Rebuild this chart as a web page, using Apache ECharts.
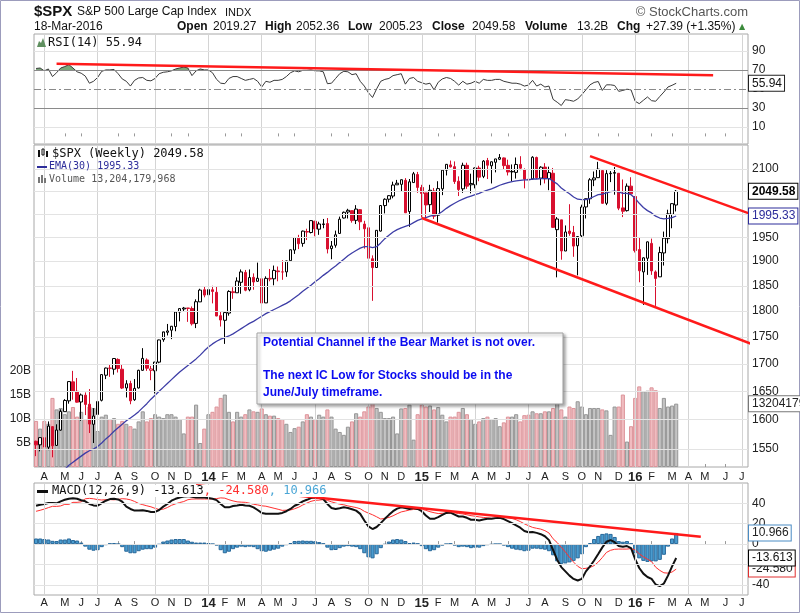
<!DOCTYPE html>
<html>
<head>
<meta charset="utf-8">
<script src="https://cdn.jsdelivr.net/npm/echarts@6/dist/echarts.min.js"></script>
<style>
  html, body { margin: 0; padding: 0; background: #fff; }
  #main { width: 800px; height: 614px; }
</style>
</head>
<body>
<div id="main"></div>
<script>
// weekly bars: week of Mon 2013-03-18 .. week of Mon 2016-03-14, the axis runs on to July 2016
const firstMonday = '2013-03-18';
const weekSlots = 174;
const prevClose = 1560.7;

const opens = [1563,1557,1569,1553,1588,1556,1582,1614,1633,1667,
  1650,1631,1643,1627,1592,1609,1634,1679,1692,1690,
  1708,1690,1656,1664,1635,1656,1688,1707,1688,1687,
  1703,1745,1759,1763,1770,1798,1804,1806,1805,1776,
  1818,1842,1832,1842,1837,1791,1782,1796,1838,1836,
  1857,1877,1842,1867,1859,1864,1816,1865,1864,1880,
  1878,1878,1901,1923,1948,1937,1962,1960,1984,1967,
  1977,1979,1926,1933,1958,1991,2004,2007,1986,2009,
  1978,1970,1905,1887,1963,2018,2032,2039,2064,2065,
  2074,2005,2069,2087,2058,2046,2020,2050,1997,2055,
  2097,2109,2105,2072,2055,2108,2064,2064,2102,2083,
  2119,2107,2115,2122,2125,2108,2093,2092,2110,2098,
  2075,2077,2126,2079,2104,2078,2090,1966,1987,1921,
  1963,1960,1932,1953,2015,2033,2075,2080,2096,2023,
  2089,2090,2090,2013,2007,2061,2038,1924,1878,1906,
  1937,1878,1868,1917,1947,1999,2019.27];
const highs = [1564,1570,1573,1597,1589,1592,1618,1636,1667,1687,
  1674,1646,1648,1654,1620,1632,1680,1693,1698,1710,
  1710,1698,1670,1669,1672,1689,1729,1710,1696,1703,
  1745,1759,1775,1771,1798,1804,1808,1806,1809,1823,
  1844,1849,1843,1850,1849,1798,1798,1841,1847,1867,
  1883,1882,1883,1875,1897,1872,1869,1884,1891,1889,
  1902,1901,1924,1950,1955,1964,1968,1986,1985,1983,
  1989,1991,1942,1964,1994,2005,2011,2007,2019,2010,
  1985,1977,1912,1965,2019,2034,2041,2071,2075,2076,
  2079,2077,2093,2093,2064,2046,2064,2057,2072,2097,
  2111,2119,2117,2083,2114,2114,2089,2103,2107,2120,
  2125,2117,2123,2134,2126,2121,2110,2126,2129,2101,
  2078,2129,2128,2106,2113,2105,2102,1993,1987,1975,
  2021,1974,1952,2020,2033,2079,2094,2116,2097,2097,
  2095,2104,2090,2076,2067,2081,2038,1950,1908,1941,
  1947,1881,1930,1962,2009,2023,2052.36];
const lows = [1538,1546,1539,1548,1536,1555,1581,1614,1628,1635,
  1630,1598,1608,1577,1560,1605,1632,1672,1676,1680,
  1684,1654,1639,1627,1633,1655,1687,1687,1670,1646,
  1701,1741,1753,1746,1761,1780,1799,1779,1772,1767,
  1818,1827,1823,1815,1790,1770,1737,1791,1824,1836,
  1834,1839,1839,1842,1858,1814,1816,1859,1851,1859,
  1862,1868,1901,1915,1925,1930,1944,1958,1952,1955,
  1969,1916,1904,1928,1958,1990,1990,1981,1978,1965,
  1926,1905,1820,1886,1962,2001,2025,2034,2064,2049,
  2002,1972,2069,2046,1992,1988,2004,1989,1981,2041,
  2085,2103,2066,2039,2046,2055,2045,2056,2072,2079,
  2077,2067,2092,2120,2099,2085,2072,2078,2097,2056,
  2044,2076,2077,2063,2067,2052,1970,1867,1903,1921,
  1953,1909,1871,1950,1990,2022,2061,2080,2022,2019,
  2070,2042,2008,1993,2005,2043,1918,1857,1812,1872,
  1872,1810,1868,1891,1937,1969,2005.23];
const closes = [1556.9,1569.2,1553.3,1588.9,1555.3,1582.2,1614.4,1633.7,1667.5,1649.6,
  1630.7,1643.4,1626.7,1592.4,1606.3,1631.9,1680.2,1692.1,1691.7,1709.7,
  1691.4,1655.8,1663.5,1633.0,1655.2,1688.0,1709.9,1691.8,1690.5,1703.2,
  1744.5,1759.8,1761.6,1770.6,1798.2,1804.8,1805.8,1805.1,1775.3,1818.3,
  1841.4,1831.4,1842.4,1838.7,1790.3,1782.6,1797.0,1838.6,1836.3,1859.5,
  1878.0,1841.1,1866.5,1857.6,1865.1,1815.7,1864.9,1863.4,1881.1,1878.5,
  1877.9,1900.5,1923.6,1949.4,1936.2,1962.9,1961.0,1985.4,1967.6,1978.2,
  1978.3,1925.2,1931.6,1955.1,1988.4,2003.4,2007.7,1985.5,2010.4,1982.9,
  1967.9,1906.1,1886.8,1964.6,2018.1,2031.9,2039.8,2063.5,2067.6,2075.4,
  2002.3,2070.7,2088.8,2058.2,2044.8,2019.4,2051.8,1995.0,2055.5,2097.0,
  2110.3,2104.5,2071.3,2053.4,2108.1,2061.0,2067.0,2102.1,2081.2,2117.7,
  2108.3,2116.1,2122.7,2126.1,2107.4,2092.8,2094.1,2110.0,2101.5,2076.8,
  2076.6,2126.6,2079.7,2103.8,2077.6,2091.5,1970.9,1988.9,1921.2,1961.1,
  1958.0,1931.3,1951.4,2014.9,2033.1,2075.2,2079.4,2099.2,2023.0,2089.2,
  2090.1,2091.7,2012.4,2005.6,2061.0,2043.9,1922.0,1880.3,1906.9,1940.2,
  1880.1,1864.8,1917.8,1948.1,2000.0,2022.2,2049.58];
// billions of shares
const volumes = [9.6,8.0,9.6,9.0,14.4,12.0,12.3,11.0,11.6,12.5,
  10.5,11.5,10.0,12.6,12.3,7.5,10.5,10.9,10.0,10.2,
  9.0,9.6,9.0,8.5,8.0,9.5,11.6,9.5,10.2,11.0,
  10.5,10.2,11.0,11.0,10.5,10.0,7.0,10.5,10.5,13.0,
  5.0,8.0,11.0,11.5,12.6,14.4,15.1,11.5,9.5,11.5,
  10.5,11.0,12.0,11.6,11.5,12.2,11.0,10.7,10.7,10.2,
  10.0,9.0,7.3,8.1,8.4,9.5,11.0,10.5,10.0,10.9,
  10.5,12.0,10.5,8.0,7.3,6.7,8.4,9.5,11.2,10.5,
  11.6,12.6,14.0,12.3,11.5,10.2,10.2,10.5,7.0,12.2,
  12.3,13.0,5.7,11.0,13.0,12.6,12.8,12.0,12.5,10.9,
  9.5,10.5,10.5,11.5,12.3,11.0,10.0,9.0,9.5,10.2,
  10.5,10.0,10.2,8.5,9.3,10.5,10.5,11.0,9.5,10.8,
  10.9,11.6,11.2,11.2,11.6,11.6,12.3,13.5,12.0,10.5,
  12.6,12.3,13.7,12.6,11.0,12.3,12.3,12.3,12.0,11.8,
  6.7,12.6,12.6,15.1,5.3,8.5,14.4,16.8,15.8,15.9,
  16.6,16.0,12.3,14.4,12.6,12.8,13.2];
const ema30 = [1478,1483,1488,1494,1499,1504,1510,1516,1523,1528,
  1533,1538,1543,1547,1550,1554,1560,1567,1573,1580,
  1586,1592,1598,1603,1608,1614,1621,1628,1636,1643,
  1650,1657,1664,1671,1678,1685,1691,1697,1703,1709,
  1716,1724,1731,1737,1742,1746,1749,1752,1756,1761,
  1766,1771,1776,1780,1785,1790,1795,1799,1803,1807,
  1811,1815,1820,1826,1832,1839,1845,1851,1858,1864,
  1871,1877,1884,1890,1897,1904,1911,1917,1922,1927,
  1930,1930,1928,1930,1938,1947,1954,1961,1966,1970,
  1973,1976,1981,1986,1989,1992,1995,1997,1999,2005,
  2012,2018,2023,2028,2032,2036,2039,2042,2045,2049,
  2052,2055,2059,2063,2066,2069,2071,2073,2074,2075,
  2075,2077,2077,2078,2078,2078,2072,2066,2057,2050,
  2044,2037,2032,2031,2031,2034,2038,2042,2043,2046,
  2049,2050,2048,2045,2045,2042,2034,2023,2014,2007,
  2002,1995,1991,1989,1990,1992,1995.33];
const rsi14 = [71.5,72,69,71,63,67,72,73.5,75.5,72,
  68,66.5,63.5,56,58,62,68.5,70,70,70.5,
  66,60.5,58,53,59,61.5,62,59,58.5,61,
  66,67.5,68,69,71,72,73,72,64,69,
  71,70,70,67,60,56,55.5,61,63,63,
  61,59,60,61,58,52,58,57,59,59,
  60,63,67,69,68,69.5,69.5,70,69,69,
  68,55.5,56,61,66,68.5,68,65,66,58,
  53,46,41,50,58,60,61,64,65,66,
  55,61,62,58,56.5,55,56,49,57,60.5,
  62,61,58,54,58,55,56,58,56,60,
  59,59,60,60,58,57,56,56,55,53,
  54,59,53,55,52,53,39,36,32.5,38.7,
  38,37,39.4,44,49,54.3,56.8,57.8,48.4,54.3,
  54.3,53.6,47.4,48.4,49.7,49,37,34.5,38,41.5,
  37.6,37,42,46.7,52,53.8,55.94];
const macdLine = [37.7,38.7,39.4,40.3,40.3,40,42,43.5,44.5,45,
  44.5,43,42,39.4,38,37.7,40.3,42.6,44.2,44.5,
  43.9,41.6,36.8,34.5,32.9,32.9,33.2,32.6,31.6,31.6,
  33.5,36.8,39.4,42.6,44.5,45.8,46.8,47.1,46.5,45.8,
  45.8,45.8,45.2,44.5,43.2,39.4,36.1,36.1,37.4,38,
  38.7,38,37.7,36.1,33.5,30.6,29.7,29.7,29.7,29.7,
  30.6,32.3,34.5,37.7,39.4,41.9,43.5,45.2,45.8,45.2,
  44.2,39.4,35.5,34.5,35.2,36.1,35.5,34.2,32.9,29.7,
  23.2,17.4,14.8,16.8,20.6,24.8,28.7,32.3,34.8,36.1,
  35.5,34.5,35.5,34.5,32.3,28.1,24.8,24.8,26.5,28.7,
  30.6,31,29,27.1,27.1,25.8,23.9,23.9,23.2,24.2,
  24.8,24.8,25.5,25.8,24.5,22.6,20.6,18.4,16.1,12.9,
  11.6,11.9,11,9.7,7.7,3.9,-5.8,-15.5,-22.6,-26.8,
  -31,-34.2,-35.8,-34.2,-26.8,-21.9,-16.1,-9.7,-3.2,2.3,
  3.9,1.9,-1.9,-2.6,-1.9,-3.9,-14.8,-23.5,-29,-32.3,
  -34.2,-39.7,-41.3,-38.7,-31,-21.9,-13.613];
const macdSignal = [32.2,33.2,34.4,35.8,37.1,37,37.5,39,39,41,
  41,41.5,44.5,44.9,44.5,43.7,43.3,43.6,43.7,43.5,
  43.9,44.6,44.3,43.5,41.9,39.9,38.7,37.6,36.6,35.1,
  34,34.3,35.9,38.1,39.5,40.8,41.8,43.6,44.2,44.3,
  44.3,44.3,44.2,44.5,44.7,45.4,45.1,43.6,42.4,41.5,
  41.2,41,40.2,39.1,38.5,37.6,37.2,36.2,35.2,34.2,
  33.1,33.3,33.5,34.7,36.2,38.4,40.3,42,43,43.2,
  43.7,42.9,41.5,40.3,39.2,38.6,37.5,36.7,35.9,34.7,
  32.2,30.4,28.8,26.8,24.6,25.3,26.2,27.8,29.8,31.6,
  32.5,33.5,34,34,34.3,33.1,31.8,30.8,30,30.2,
  30.6,30.5,30.5,30.1,29.6,28.8,27.9,27.4,26.7,26.2,
  25.8,25.3,25.5,25.8,26,25.6,25.1,23.9,22.1,19.9,
  18.1,16.4,15.5,14.7,13.2,10.9,5.2,1.5,-3.1,-7.8,
  -13,-17.7,-21.8,-24.2,-23.8,-22.9,-21.1,-17.7,-13.2,-8.2,
  -6.1,-5.1,-4.9,-4.9,-4.9,-4.4,-5.8,-9.5,-12.5,-14.8,
  -17.2,-22.7,-25.8,-28.2,-28.5,-27.4,-24.58];
const macdHist = [5.5,5.5,5,4.5,3.2,3,4.5,4.5,5.5,4,
  3.5,1.5,-2.5,-5.5,-6.5,-6,-3,-1,0.5,1,
  0,-3,-7.5,-9,-9,-7,-5.5,-5,-5,-3.5,
  -0.5,2.5,3.5,4.5,5,5,5,3.5,2.3,1.5,
  1.5,1.5,1,0,-1.5,-6,-9,-7.5,-5,-3.5,
  -2.5,-3,-2.5,-3,-5,-7,-7.5,-6.5,-5.5,-4.5,
  -2.5,-1,1,3,3.2,3.5,3.2,3.2,2.8,2,
  0.5,-3.5,-6,-5.8,-4,-2.5,-2,-2.5,-3,-5,
  -9,-13,-14,-10,-4,-0.5,2.5,4.5,5,4.5,
  3,1,1.5,0.5,-2,-5,-7,-6,-3.5,-1.5,
  0,0.5,-1.5,-3,-2.5,-3,-4,-3.5,-3.5,-2,
  -1,-0.5,0,0,-1.5,-3,-4.5,-5.5,-6,-7,
  -6.5,-4.5,-4.5,-5,-5.5,-7,-11,-17,-19.5,-19,
  -18,-16.5,-14,-10,-3,1,5,8,10,10.5,
  10,7,3,2.3,3,0.5,-9,-14,-16.5,-17.5,
  -17,-17,-15.5,-10.5,-2.5,5.5,10.966];

// tick labels
const priceTicks = [1550,1600,1650,1700,1750,1800,1850,1900,1950,2000,2050,2100];
const volTicks = [5,10,15,20];
const rsiTicks = [10,30,50,70,90];
const macdTicks = [-40,-20,0,20,40];
const monthLetters = ['J','F','M','A','M','J','J','A','S','O','N','D'];

// hand-drawn trend lines: [week index, value]
const rsiTrend = [[5,76.6],[165,64.4]];
const upperChannel = [[135,2129],[176,1993.8]];
const lowerChannel = [[94,1991],[177,1729]];
const macdTrend = [[39,57.9],[162,7.3]];

// categories
const weeks = [];
const t0 = Date.parse(firstMonday + 'T00:00:00Z');
for (let i = 0; i < weekSlots; i++) {
  weeks.push(new Date(t0 + i * 7 * 864e5).toISOString().slice(0, 10));
}
const monthOf = (s) => +s.slice(5, 7) - 1;
const monthStarts = new Set();
const quarterStarts = [];
weeks.forEach((w, i) => {
  if (i > 0 && monthOf(w) !== monthOf(weeks[i - 1])) {
    monthStarts.add(i);
    if (monthOf(w) % 3 === 0) quarterStarts.push(i);
  }
});

const RED = '#d8102f';
const FONT = 'Liberation Sans';
const MONO = 'DejaVu Sans Mono';
const last = closes.length - 1;

const candleData = closes.map((c, i) => {
  const pc = i ? closes[i - 1] : prevClose;
  const col = c < pc ? RED : '#000';
  const fill = c >= opens[i] ? '#fff' : col;
  return {
    value: [opens[i], c, lows[i], highs[i]],
    itemStyle: { color: fill, color0: fill, borderColor: col, borderColor0: col }
  };
});
const volData = volumes.map((v, i) => {
  const down = closes[i] < (i ? closes[i - 1] : prevClose);
  return {
    value: v,
    itemStyle: down
      ? { color: '#f0bcc0', borderColor: '#dc949a', borderWidth: 1 }
      : { color: '#c4c4c4', borderColor: '#969696', borderWidth: 1 }
  };
});
const empty = weeks.map(() => null);

function monthLabel(value) {
  const m = monthOf(value);
  if (m === 0) return '{yr|' + value.slice(2, 4) + '}';
  return monthLetters[m];
}

function xAxisFor(gi, showLabels, margin) {
  return {
    type: 'category', gridIndex: gi, data: weeks, boundaryGap: true,
    axisLine: { show: false },
    axisTick: { show: true, inside: true, length: 3, alignWithLabel: true,
      interval: (i) => monthStarts.has(i), lineStyle: { color: '#999' } },
    axisLabel: { show: showLabels, interval: (i) => monthStarts.has(i), margin: margin,
      formatter: monthLabel, color: '#222', fontSize: 11, fontFamily: FONT,
      rich: { yr: { fontWeight: 'bold', fontSize: 13, fontFamily: FONT, color: '#222' } } },
    splitLine: { show: false }
  };
}

function quarterLines() {
  return quarterStarts.map((i) => ({
    xAxis: i, label: { show: false },
    lineStyle: { color: '#d4d4d4', width: 1, type: 'solid' }
  }));
}

function tickLines(values, styleFor) {
  return values.map((v) => ({
    yAxis: v,
    lineStyle: styleFor(v),
    label: { show: true, position: 'end', distance: 4, formatter: String(v),
      color: '#222', fontSize: 12, fontFamily: FONT }
  }));
}

// last-value box on the right axis
function tag(value, text, border, color, bold) {
  return {
    silent: true, symbol: ['none', 'none'], animation: false, z: 8,
    lineStyle: { color: 'rgba(0,0,0,0)', width: 1, opacity: 1 },
    data: [{ yAxis: value }],
    label: { show: true, position: 'end', distance: 1, formatter: text, opacity: 1,
      backgroundColor: '#fff', borderColor: border, borderWidth: 1,
      padding: [2, 2, 1, 3], color: color, fontSize: 12, fontFamily: FONT,
      fontWeight: bold ? 'bold' : 'normal' }
  };
}

const lightGrid = { color: '#e3e3e3', width: 1, type: 'solid' };

// green shading only above the 70 line of the RSI panel (34..144 px)
const overbought = {
  type: 'linear', x: 0, y: 34, x2: 0, y2: 144, global: true,
  colorStops: [
    { offset: 0, color: '#7aa87a' }, { offset: 0.3265, color: '#7aa87a' },
    { offset: 0.3265, color: 'rgba(255,255,255,0)' }, { offset: 1, color: 'rgba(255,255,255,0)' }
  ]
};

const option = {
  animation: false,
  backgroundColor: '#fff',
  textStyle: { fontFamily: FONT },
  grid: [
    { left: 34, right: 52, top: 34, height: 110, show: true, borderColor: '#a8a8a8', borderWidth: 1 },
    { left: 34, right: 52, top: 145, height: 322, show: true, borderColor: '#a8a8a8', borderWidth: 1 },
    { left: 34, right: 52, top: 483, height: 112, show: true, borderColor: '#a8a8a8', borderWidth: 1 }
  ],
  xAxis: [xAxisFor(0, false, 2), xAxisFor(1, true, 4), xAxisFor(2, true, 2)],
  yAxis: [
    { type: 'value', gridIndex: 0, position: 'right', min: -8, max: 107.8,
      axisLabel: { show: false }, axisTick: { show: false }, axisLine: { show: false }, splitLine: { show: false } },
    { type: 'log', logBase: 10, gridIndex: 1, position: 'right', min: 1520, max: 2155,
      axisLabel: { show: false }, axisTick: { show: false }, axisLine: { show: false }, splitLine: { show: false }, minorSplitLine: { show: false } },
    { type: 'value', gridIndex: 1, position: 'left', min: 0, max: 67.1, interval: 5,
      axisLabel: { margin: 3, color: '#222', fontSize: 12, fontFamily: FONT,
        formatter: (v) => (volTicks.indexOf(v) >= 0 ? v + 'B' : '') },
      axisTick: { show: false }, axisLine: { show: false }, splitLine: { show: false } },
    { type: 'value', gridIndex: 2, position: 'right', min: -50, max: 60,
      axisLabel: { show: false }, axisTick: { show: false }, axisLine: { show: false }, splitLine: { show: false } }
  ],
  series: [
    // RSI panel
    { type: 'line', xAxisIndex: 0, yAxisIndex: 0, data: empty, z: 1, silent: true, symbol: 'none',
      markLine: { silent: true, symbol: ['none', 'none'], animation: false,
        data: quarterLines().concat(tickLines(rsiTicks, (v) => {
          if (v === 70 || v === 30) return { color: '#8a8a8a', width: 1, type: 'solid' };
          if (v === 50) return { color: '#8a8a8a', width: 1, type: [7, 3, 2, 3] };
          return lightGrid;
        })) } },
    { type: 'line', xAxisIndex: 0, yAxisIndex: 0, data: rsi14, z: 2, silent: true, symbol: 'none',
      lineStyle: { width: 0, color: 'rgba(0,0,0,0)' }, areaStyle: { origin: 70, color: overbought, opacity: 1 } },
    { type: 'line', xAxisIndex: 0, yAxisIndex: 0, data: rsi14, z: 3, symbol: 'none',
      lineStyle: { color: '#3a3a3a', width: 1 },
      markLine: tag(rsi14[last], '55.94', '#222', '#111', false) },
    { type: 'line', xAxisIndex: 0, yAxisIndex: 0, data: rsiTrend, z: 6, symbol: 'none',
      lineStyle: { color: '#ff1a1a', width: 2.5 } },

    // price panel
    { type: 'line', xAxisIndex: 1, yAxisIndex: 1, data: empty, z: 1, silent: true, symbol: 'none',
      markLine: { silent: true, symbol: ['none', 'none'], animation: false,
        data: quarterLines().concat(tickLines(priceTicks, () => lightGrid)) } },
    { type: 'bar', xAxisIndex: 1, yAxisIndex: 2, data: volData, z: 2, barCategoryGap: '0%',
      markLine: tag(13.204179968, '13204179968', '#777', '#222', false) },
    { type: 'candlestick', xAxisIndex: 1, yAxisIndex: 1, data: candleData, z: 3, barWidth: 3,
      itemStyle: { borderWidth: 1 },
      markLine: tag(2049.58, '2049.58', '#000', '#000', true) },
    { type: 'line', xAxisIndex: 1, yAxisIndex: 1, data: ema30, z: 4, symbol: 'none',
      lineStyle: { color: '#3d3da6', width: 1.3 },
      markLine: tag(1995.33, '1995.33', '#2d2d9a', '#2d2d9a', false) },
    { type: 'line', xAxisIndex: 1, yAxisIndex: 1, data: upperChannel, z: 6, symbol: 'none', clip: false,
      lineStyle: { color: '#ff1a1a', width: 2.5 } },
    { type: 'line', xAxisIndex: 1, yAxisIndex: 1, data: lowerChannel, z: 6, symbol: 'none', clip: false,
      lineStyle: { color: '#ff1a1a', width: 2.5 } },

    // MACD panel
    { type: 'line', xAxisIndex: 2, yAxisIndex: 3, data: empty, z: 1, silent: true, symbol: 'none',
      markLine: { silent: true, symbol: ['none', 'none'], animation: false,
        data: quarterLines().concat(tickLines(macdTicks, () => lightGrid)) } },
    { type: 'bar', xAxisIndex: 2, yAxisIndex: 3, data: macdHist, z: 2, barCategoryGap: '0%',
      itemStyle: { color: '#4a9ccf', borderColor: '#28689a', borderWidth: 1 },
      markLine: tag(10.966, '10.966', '#4a8cc4', '#222', false) },
    { type: 'line', xAxisIndex: 2, yAxisIndex: 3, data: macdSignal, z: 3, symbol: 'none',
      lineStyle: { color: '#ff3030', width: 1 },
      markLine: tag(-24.58, '-24.580', '#e03030', '#222', false) },
    { type: 'line', xAxisIndex: 2, yAxisIndex: 3, data: macdLine, z: 4, symbol: 'none',
      lineStyle: { color: '#111', width: 2 },
      markLine: tag(-13.613, '-13.613', '#000', '#111', false) },
    { type: 'line', xAxisIndex: 2, yAxisIndex: 3, data: macdTrend, z: 6, symbol: 'none',
      lineStyle: { color: '#ff1a1a', width: 2.5 } }
  ],
  graphic: [
    { type: 'rect', z: 0, silent: true, shape: { x: 0.5, y: 0.5, width: 799, height: 612 },
      style: { fill: 'none', stroke: '#9c9cbc', lineWidth: 1 } },
    { type: 'text', x: 34, y: 4, style: { text: '$SPX', font: 'bold 15px "Liberation Sans"', fill: '#111', verticalAlign: 'top' } },
    { type: 'text', x: 77, y: 6, style: { text: 'S&P 500 Large Cap Index', font: '12px "Liberation Sans"', fill: '#111', verticalAlign: 'top' } },
    { type: 'text', x: 225, y: 7, style: { text: 'INDX', font: '11px "Liberation Sans"', fill: '#111', verticalAlign: 'top' } },
    { type: 'text', x: 34, y: 21, style: { text: '18-Mar-2016', font: '12px "Liberation Sans"', fill: '#111', verticalAlign: 'top' } },
    { type: 'text', x: 748, y: 6, style: { text: '© StockCharts.com', font: '13px "Liberation Sans"', fill: '#555', align: 'right', verticalAlign: 'top' } },
    { type: 'text', x: 177, y: 21, style: { text: 'Open', font: 'bold 12px "Liberation Sans"', fill: '#111', verticalAlign: 'top' } },
    { type: 'text', x: 213, y: 21, style: { text: '2019.27', font: '12px "Liberation Sans"', fill: '#111', verticalAlign: 'top' } },
    { type: 'text', x: 265, y: 21, style: { text: 'High', font: 'bold 12px "Liberation Sans"', fill: '#111', verticalAlign: 'top' } },
    { type: 'text', x: 296, y: 21, style: { text: '2052.36', font: '12px "Liberation Sans"', fill: '#111', verticalAlign: 'top' } },
    { type: 'text', x: 348, y: 21, style: { text: 'Low', font: 'bold 12px "Liberation Sans"', fill: '#111', verticalAlign: 'top' } },
    { type: 'text', x: 379, y: 21, style: { text: '2005.23', font: '12px "Liberation Sans"', fill: '#111', verticalAlign: 'top' } },
    { type: 'text', x: 432, y: 21, style: { text: 'Close', font: 'bold 12px "Liberation Sans"', fill: '#111', verticalAlign: 'top' } },
    { type: 'text', x: 472, y: 21, style: { text: '2049.58', font: '12px "Liberation Sans"', fill: '#111', verticalAlign: 'top' } },
    { type: 'text', x: 525, y: 21, style: { text: 'Volume', font: 'bold 12px "Liberation Sans"', fill: '#111', verticalAlign: 'top' } },
    { type: 'text', x: 577, y: 21, style: { text: '13.2B', font: '12px "Liberation Sans"', fill: '#111', verticalAlign: 'top' } },
    { type: 'text', x: 617, y: 21, style: { text: 'Chg', font: 'bold 12px "Liberation Sans"', fill: '#111', verticalAlign: 'top' } },
    { type: 'text', x: 646, y: 21, style: { text: '+27.39 (+1.35%)', font: '12px "Liberation Sans"', fill: '#111', verticalAlign: 'top' } },
    { type: 'text', x: 739, y: 23, style: { text: '▲', font: '8px "DejaVu Sans"', fill: '#3b8a3b', verticalAlign: 'top' } },

    // panel legends
    { type: 'polygon', z: 10, shape: { points: [[37, 47], [39, 41], [41, 43], [43, 38], [46, 47]] }, style: { fill: '#5f8f5f' } },
    { type: 'text', z: 10, x: 48, y: 37, style: { text: 'RSI(14) 55.94', font: '12px "DejaVu Sans Mono"', fill: '#111', verticalAlign: 'top' } },

    { type: 'rect', z: 10, shape: { x: 38, y: 150, width: 2, height: 7 }, style: { fill: '#111' } },
    { type: 'rect', z: 10, shape: { x: 42, y: 149, width: 2, height: 6 }, style: { fill: '#fff', stroke: '#111', lineWidth: 1 } },
    { type: 'rect', z: 10, shape: { x: 46, y: 151, width: 2, height: 6 }, style: { fill: '#111' } },
    { type: 'text', z: 10, x: 52, y: 148, style: { text: '$SPX (Weekly) 2049.58', font: '12px "DejaVu Sans Mono"', fill: '#111', verticalAlign: 'top' } },
    { type: 'rect', z: 10, shape: { x: 37, y: 166, width: 10, height: 2 }, style: { fill: '#2d2d9a' } },
    { type: 'text', z: 10, x: 49, y: 161, style: { text: 'EMA(30) 1995.33', font: '10px "DejaVu Sans Mono"', fill: '#2d2d9a', verticalAlign: 'top' } },
    { type: 'rect', z: 10, shape: { x: 38, y: 177, width: 2, height: 6 }, style: { fill: '#777' } },
    { type: 'rect', z: 10, shape: { x: 41, y: 175, width: 2, height: 8 }, style: { fill: '#777' } },
    { type: 'rect', z: 10, shape: { x: 44, y: 178, width: 2, height: 5 }, style: { fill: '#777' } },
    { type: 'text', z: 10, x: 49, y: 174, style: { text: 'Volume 13,204,179,968', font: '10px "DejaVu Sans Mono"', fill: '#555', verticalAlign: 'top' } },

    { type: 'rect', z: 10, shape: { x: 37, y: 490, width: 11, height: 3 }, style: { fill: '#111' } },
    { type: 'text', z: 10, x: 52, y: 485, style: {
        text: '{k|MACD(12,26,9) -13.613}{r|, -24.580}{c|, 10.966}',
        font: '12px "DejaVu Sans Mono"', verticalAlign: 'top', backgroundColor: '#fff',
        rich: { k: { fill: '#111', fontFamily: MONO, fontSize: 12 },
                r: { fill: '#ff3030', fontFamily: MONO, fontSize: 12 },
                c: { fill: '#4aa6d6', fontFamily: MONO, fontSize: 12 } } } },

    // annotation box
    { type: 'rect', z: 20, shape: { x: 257, y: 333, width: 306, height: 71 },
      style: { fill: '#fff', stroke: '#a0a0a0', lineWidth: 1, shadowBlur: 3, shadowOffsetX: 2, shadowOffsetY: 2, shadowColor: 'rgba(0,0,0,0.35)' } },
    { type: 'text', z: 21, x: 263, y: 337, style: { text: 'Potential Channel if the Bear Market is not over.', font: 'bold 12px "Liberation Sans"', fill: '#0b0bf0', verticalAlign: 'top' } },
    { type: 'text', z: 21, x: 263, y: 370, style: { text: 'The next IC Low for Stocks should be in the', font: 'bold 12px "Liberation Sans"', fill: '#0b0bf0', verticalAlign: 'top' } },
    { type: 'text', z: 21, x: 263, y: 387, style: { text: 'June/July timeframe.', font: 'bold 12px "Liberation Sans"', fill: '#0b0bf0', verticalAlign: 'top' } }
  ]
};

const chart = echarts.init(document.getElementById('main'));
chart.setOption(option);
</script>
</body>
</html>
